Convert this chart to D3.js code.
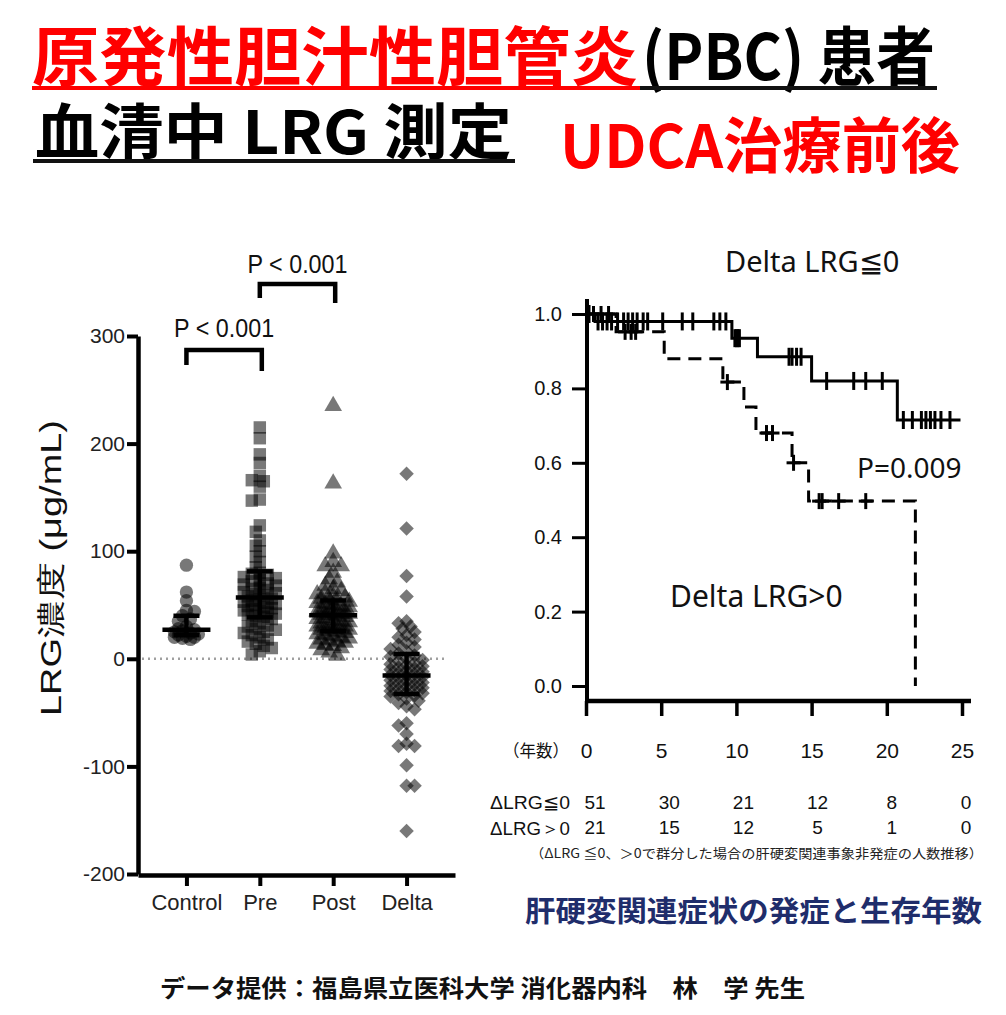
<!DOCTYPE html>
<html>
<head>
<meta charset="utf-8">
<script src="https://cdn.jsdelivr.net/npm/d3@7"></script>
<style>
  body { margin: 0; background: #fff; }
  svg { display: block; }
</style>
</head>
<body>
<svg></svg>
<script>
// ---- data ----
var categories = ["Control", "Pre", "Post", "Delta"];
var controlVals = [87, 62, 54, 45, 44, 40, 37, 35, 30, 28, 27, 26, 25, 24, 23, 22, 21, 20, 20, 19, 18];
var preVals = [215, 205, 190, 182, 170, 166, 165, 160, 148, 147, 124, 118, 110, 105, 100, 95, 90, 85,
  80, 79, 78, 76, 75, 73, 72, 70, 69, 68, 66, 65, 64, 62, 61, 60, 59, 58,
  56, 55, 54, 53, 52, 51, 50, 49, 48, 47, 46, 45, 44, 43, 42, 41, 40, 39,
  37, 35, 33, 31, 30, 28, 27, 25, 24, 22, 20, 18, 16, 14, 12, 10, 7, 4];
var postVals = [235, 163, 98, 90, 86, 86, 80, 74, 71, 68, 65, 63, 61, 60, 58, 57, 56, 55,
  54, 53, 52, 51, 50, 49, 48, 47, 46, 45, 44, 44, 43, 43, 42, 42, 41, 41,
  40, 39, 38, 37, 36, 35, 34, 33, 32, 31, 30, 30, 29, 28, 28, 27, 27, 26,
  25, 24, 23, 22, 21, 20, 19, 18, 17, 16, 15, 14, 13, 12, 10, 8, 6, 3];
var deltaVals = [172, 121, 77, 58, 35, 33, 30, 28, 25, 22, 20, 18, 15, 13, 11, 9, 7, 5,
  3, 2, 0, -1, -2, -4, -5, -6, -7, -8, -9, -10, -11, -12, -13, -14, -15, -16,
  -17, -18, -19, -20, -21, -22, -23, -24, -25, -26, -27, -28, -29, -30, -31, -32, -33, -34,
  -35, -37, -39, -41, -44, -47, -60, -62, -70, -79, -81, -81, -99, -118, -118, -160];
var leftTicks = [-200, -100, 0, 100, 200, 300];

// Kaplan-Meier: step times and survival, censor times
var kmTimesLE = [0, 0.6, 9.7, 11.4, 15.0, 20.7];
var kmSurvLE = [1.0, 0.98, 0.935, 0.885, 0.82, 0.715];
var kmEndLE = 24.9;
var censorLE = [0.2, 0.8, 1.1, 1.4, 1.7, 2.1, 2.5, 2.8, 3.1, 3.4, 3.8, 4.1, 5.1, 6.4, 7.1, 8.5, 8.9, 9.3,
  9.9, 10.0, 10.1, 10.2, 13.5, 13.7, 14.0, 14.3, 16.0, 17.8, 18.6, 19.7,
  21.1, 21.7, 22.3, 22.6, 22.9, 23.2, 23.6, 24.2];
var kmTimesGT = [0, 2.0, 5.2, 9.1, 10.5, 11.3, 13.7, 14.8, 21.9];
var kmSurvGT = [1.0, 0.952, 0.88, 0.817, 0.75, 0.68, 0.60, 0.497, 0.0];
var censorGT = [0.5, 1.0, 1.5, 2.6, 3.0, 3.3, 9.4, 12.0, 12.4, 13.8, 15.5, 15.7, 16.8, 18.6];
var kmYTicks = [0, 0.2, 0.4, 0.6, 0.8, 1.0];
var kmXTicks = [0, 5, 10, 15, 20, 25];
var riskLE = [51, 30, 21, 12, 8, 0];
var riskGT = [21, 15, 12, 5, 1, 0];

var svgWidth = 1006, svgHeight = 1015;
var jp = "'Noto Sans CJK JP', sans-serif";
var arial = "'Liberation Sans', Arial, sans-serif";
var calib = "'Noto Sans', 'Open Sans', sans-serif";

var svg = d3.select("svg")
    .attr("width", svgWidth)
    .attr("height", svgHeight);

svg.append("rect").attr("width", svgWidth).attr("height", svgHeight).attr("fill", "#fff");

// ---- titles ----
function title(txt, x, y, size, len, color) {
  svg.append("text")
    .attr("x", x).attr("y", y)
    .attr("font-family", jp).attr("font-weight", 700)
    .attr("font-size", size).attr("fill", color)
    .attr("textLength", len).attr("lengthAdjust", "spacingAndGlyphs")
    .text(txt);
}
title("原発性胆汁性胆管炎", 32, 80, 64, 606, "#ff0000");
title("(PBC) 患者", 642, 80, 64, 293, "#000");
svg.append("rect").attr("x", 32).attr("y", 86).attr("width", 608).attr("height", 4).attr("fill", "#ff0000");
svg.append("rect").attr("x", 640).attr("y", 86).attr("width", 297).attr("height", 4).attr("fill", "#111");
title("血清中 LRG 測定", 35, 154, 60, 477, "#000");
svg.append("rect").attr("x", 33).attr("y", 159).attr("width", 482).attr("height", 4).attr("fill", "#111");
title("UDCA治療前後", 560, 168, 60, 400, "#ff0000");

// ---- left: scatter dot plot ----
var yL = d3.scaleLinear().domain([-200, 300]).range([874, 336]);
var xL = d3.scalePoint().domain(categories).range([138, 455]).padding(0.66);

var gL = svg.append("g");

// zero line
gL.append("line")
  .attr("x1", 142).attr("x2", 446)
  .attr("y1", yL(0)).attr("y2", yL(0))
  .attr("stroke", "#a0a0a0").attr("stroke-width", 2.5)
  .attr("stroke-dasharray", "2,4");

var yAxisL = gL.append("g")
  .attr("transform", "translate(138,0)")
  .call(d3.axisLeft(yL).tickValues(leftTicks).tickFormat(function (d) { return String(d); })
    .tickSize(11).tickSizeOuter(0).tickPadding(2));
yAxisL.select(".domain").attr("stroke-width", 4.5);
yAxisL.selectAll(".tick line").attr("stroke-width", 4);
yAxisL.selectAll(".tick text").attr("font-family", arial).attr("font-size", 21).attr("fill", "#222");

var xAxisL = gL.append("g")
  .attr("transform", "translate(0,875)")
  .call(d3.axisBottom(xL).tickSize(11).tickSizeOuter(0).tickPadding(8));
xAxisL.select(".domain").attr("stroke-width", 4.5);
xAxisL.selectAll(".tick line").attr("stroke-width", 4);
xAxisL.selectAll(".tick text").attr("font-family", arial).attr("font-size", 22).attr("fill", "#222");

gL.append("text")
  .attr("transform", "translate(61,568) rotate(-90)")
  .attr("text-anchor", "middle")
  .attr("font-family", arial).attr("font-size", 29).attr("fill", "#111")
  .attr("textLength", 296).attr("lengthAdjust", "spacingAndGlyphs")
  .text("LRG濃度 (μg/mL)");

// beeswarm placement (layout only)
function swarm(values, minDist, step, maxOff) {
  var pts = values.map(function (v) { return { v: v, py: yL(v) }; })
    .sort(function (a, b) { return a.py - b.py; });
  var placed = [];
  var flip = 1;
  pts.forEach(function (p) {
    var best = null, bestScore = -1;
    var n = Math.floor(maxOff / step);
    for (var k = 0; k <= n && best === null; k++) {
      var sides = k === 0 ? [0] : [flip, -flip];
      for (var s = 0; s < sides.length; s++) {
        var dx = sides[s] * k * step;
        var md = d3.min(placed, function (q) { return Math.hypot(q.dx - dx, q.py - p.py); });
        if (md === undefined || md >= minDist) { best = dx; break; }
        if (md > bestScore) { bestScore = md; p.alt = dx; }
      }
    }
    if (best === null) best = p.alt;
    flip = -flip;
    p.dx = best;
    placed.push(p);
  });
  return placed;
}

var groups = [
  { name: "Control", vals: controlVals, sym: d3.symbolCircle, size: 140, rot: 0, off: 14 },
  { name: "Pre", vals: preVals, sym: d3.symbolSquare, size: 155, rot: 0, off: 17 },
  { name: "Post", vals: postVals, sym: d3.symbolTriangle, size: 135, rot: 0, off: 16 },
  { name: "Delta", vals: deltaVals, sym: d3.symbolSquare, size: 105, rot: 45, off: 16 }
];

groups.forEach(function (g) {
  var cx = xL(g.name);
  var pts = swarm(g.vals, 6.5, 4, g.off);
  gL.append("g").selectAll("path")
    .data(pts)
    .enter()
    .append("path")
    .attr("d", d3.symbol().type(g.sym).size(g.size))
    .attr("transform", function (d) {
      return "translate(" + (cx + d.dx) + "," + d.py + ") rotate(" + g.rot + ")";
    })
    .attr("fill", "#000")
    .attr("fill-opacity", 0.53);

  var sorted = g.vals.slice().sort(d3.ascending);
  var med = d3.quantile(sorted, 0.5);
  var q1 = d3.quantile(sorted, 0.25);
  var q3 = d3.quantile(sorted, 0.75);
  var eb = gL.append("g").attr("stroke", "#000").attr("stroke-width", 4.5);
  eb.append("line").attr("x1", cx).attr("x2", cx).attr("y1", yL(q1)).attr("y2", yL(q3));
  eb.append("line").attr("x1", cx - 13).attr("x2", cx + 13).attr("y1", yL(q1)).attr("y2", yL(q1));
  eb.append("line").attr("x1", cx - 13).attr("x2", cx + 13).attr("y1", yL(q3)).attr("y2", yL(q3));
  eb.append("line").attr("x1", cx - 24).attr("x2", cx + 24).attr("y1", yL(med)).attr("y2", yL(med));
});

// significance brackets
function bracket(a, b, yTop, legA, legB, label, ly) {
  var x1 = xL(a), x2 = xL(b) + 2;
  gL.append("path")
    .attr("d", "M" + x1 + "," + legA + "V" + yTop + "H" + x2 + "V" + legB)
    .attr("fill", "none").attr("stroke", "#000").attr("stroke-width", 4.5);
  gL.append("text")
    .attr("x", (x1 + x2) / 2).attr("y", ly)
    .attr("text-anchor", "middle")
    .attr("font-family", arial).attr("font-size", 25).attr("fill", "#111")
    .attr("textLength", 100).attr("lengthAdjust", "spacingAndGlyphs")
    .text(label);
}
bracket("Control", "Pre", 350, 365, 371, "P < 0.001", 337);
bracket("Pre", "Post", 284, 298, 303, "P < 0.001", 273);

// ---- right: Kaplan-Meier ----
var xR = d3.scaleLinear().domain([0, 25]).range([586, 962]);
var yR = d3.scaleLinear().domain([0, 1]).range([686, 314]);
var gR = svg.append("g");

gR.append("line").attr("x1", 587).attr("x2", 587).attr("y1", 299).attr("y2", 703)
  .attr("stroke", "#000").attr("stroke-width", 4);
gR.append("line").attr("x1", 585).attr("x2", 971).attr("y1", 701).attr("y2", 701)
  .attr("stroke", "#000").attr("stroke-width", 4.5);

var yAxisR = gR.append("g")
  .attr("transform", "translate(587,0)")
  .call(d3.axisLeft(yR).tickValues(kmYTicks).tickFormat(d3.format(".1f")).tickSize(15).tickPadding(10));
yAxisR.select(".domain").remove();
yAxisR.selectAll(".tick line").attr("stroke-width", 3);
yAxisR.selectAll(".tick text").attr("font-family", arial).attr("font-size", 20).attr("fill", "#111");

var xAxisR = gR.append("g")
  .attr("transform", "translate(0,701)")
  .call(d3.axisBottom(xR).tickValues(kmXTicks).tickSize(15).tickPadding(27));
xAxisR.select(".domain").remove();
xAxisR.selectAll(".tick line").attr("stroke-width", 3.5);
xAxisR.selectAll(".tick text").attr("font-family", arial).attr("font-size", 21).attr("fill", "#111");

gR.append("text").attr("x", 503).attr("y", 757)
  .attr("font-family", jp).attr("font-size", 17).attr("fill", "#111")
  .attr("textLength", 66).attr("lengthAdjust", "spacingAndGlyphs")
  .text("（年数）");

function survAt(times, surv, t) {
  var i = d3.bisectRight(times, t) - 1;
  return surv[Math.max(0, i)];
}

var step = d3.line()
  .x(function (d) { return xR(d[0]); })
  .y(function (d) { return yR(d[1]); })
  .curve(d3.curveStepAfter);

var ptsLE = kmTimesLE.map(function (t, i) { return [t, kmSurvLE[i]]; });
ptsLE.push([kmEndLE, kmSurvLE[kmSurvLE.length - 1]]);
gR.append("path").attr("d", step(ptsLE))
  .attr("fill", "none").attr("stroke", "#000").attr("stroke-width", 3);

var ptsGT = kmTimesGT.map(function (t, i) { return [t, kmSurvGT[i]]; });
gR.append("path").attr("d", step(ptsGT))
  .attr("fill", "none").attr("stroke", "#000").attr("stroke-width", 3)
  .attr("stroke-dasharray", "13,8");

gR.append("g").selectAll("line")
  .data(censorLE)
  .enter()
  .append("line")
  .attr("x1", function (d) { return xR(d); })
  .attr("x2", function (d) { return xR(d); })
  .attr("y1", function (d) { return yR(survAt(kmTimesLE, kmSurvLE, d)) - 9; })
  .attr("y2", function (d) { return yR(survAt(kmTimesLE, kmSurvLE, d)) + 9; })
  .attr("stroke", "#000").attr("stroke-width", 3);

var cg = gR.append("g").attr("stroke", "#000").attr("stroke-width", 3);
censorGT.forEach(function (d) {
  var yy = yR(survAt(kmTimesGT, kmSurvGT, d));
  cg.append("line").attr("x1", xR(d)).attr("x2", xR(d)).attr("y1", yy - 8).attr("y2", yy + 8);
  cg.append("line").attr("x1", xR(d) - 7).attr("x2", xR(d) + 7).attr("y1", yy).attr("y2", yy);
});

gR.append("text").attr("x", 725).attr("y", 272)
  .attr("font-family", calib).attr("font-size", 29).attr("fill", "#111")
  .text("Delta LRG≦0");
gR.append("text").attr("x", 857).attr("y", 478)
  .attr("font-family", calib).attr("font-size", 28).attr("fill", "#111")
  .text("P=0.009");
gR.append("text").attr("x", 670).attr("y", 607)
  .attr("font-family", calib).attr("font-size", 30).attr("fill", "#111")
  .text("Delta LRG>0");

// risk table
var rt = gR.append("g").attr("font-family", arial).attr("font-size", 19).attr("fill", "#111");
rt.append("text").attr("x", 490).attr("y", 809).attr("textLength", 80).attr("lengthAdjust", "spacingAndGlyphs").text("ΔLRG≦0");
rt.append("text").attr("x", 490).attr("y", 835).attr("textLength", 80).attr("lengthAdjust", "spacingAndGlyphs").text("ΔLRG＞0");
rt.selectAll(".r1").data(riskLE).enter().append("text")
  .attr("x", function (d, i) { return xR(kmXTicks[i]) + 9 - i; })
  .attr("y", 809).attr("text-anchor", "middle").text(function (d) { return d; });
rt.selectAll(".r2").data(riskGT).enter().append("text")
  .attr("x", function (d, i) { return xR(kmXTicks[i]) + 9 - i; })
  .attr("y", 834).attr("text-anchor", "middle").text(function (d) { return d; });

svg.append("text").attr("x", 530).attr("y", 858)
  .attr("font-family", jp).attr("font-size", 13).attr("fill", "#222")
  .attr("textLength", 453).attr("lengthAdjust", "spacingAndGlyphs")
  .text("（ΔLRG ≦0、＞0で群分した場合の肝硬変関連事象非発症の人数推移）");

svg.append("text").attr("x", 525).attr("y", 922)
  .attr("font-family", jp).attr("font-weight", 700).attr("font-size", 29).attr("fill", "#1f2d6b")
  .attr("textLength", 457).attr("lengthAdjust", "spacingAndGlyphs")
  .text("肝硬変関連症状の発症と生存年数");

// footer
svg.append("text").attr("x", 160).attr("y", 997)
  .attr("font-family", jp).attr("font-weight", 700).attr("font-size", 24).attr("fill", "#111")
  .attr("textLength", 645).attr("lengthAdjust", "spacingAndGlyphs")
  .text("データ提供：福島県立医科大学 消化器内科　林　学 先生");
</script>
</body>
</html>
